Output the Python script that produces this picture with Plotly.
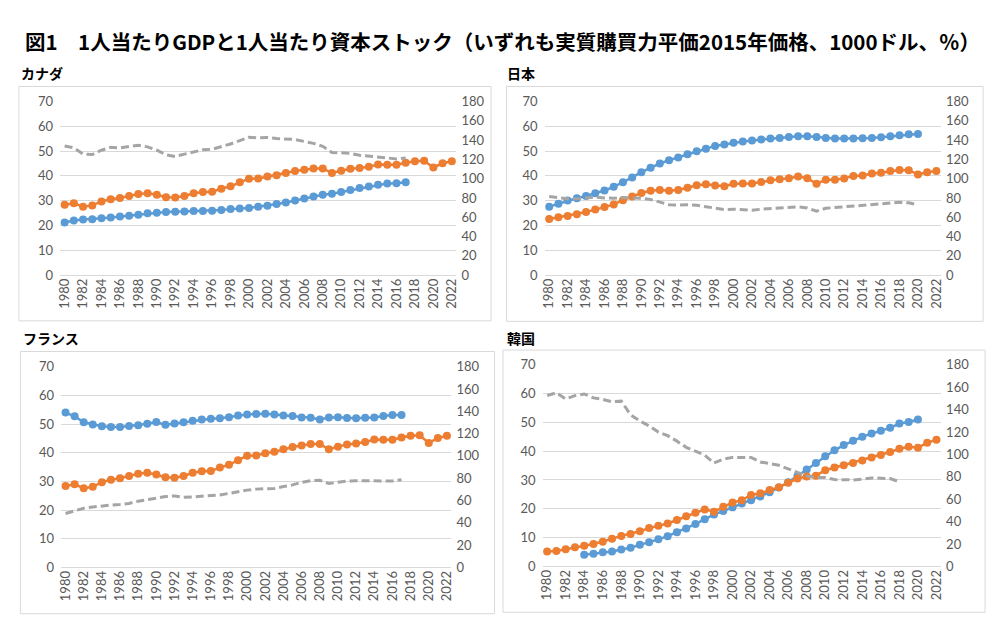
import plotly.graph_objects as go

years = list(range(1980, 2023))

# ---- Canada ----
can_gdp = [28.4, 29.0, 27.6, 28.1, 29.7, 30.6, 31.1, 31.9, 32.7, 33.0, 32.4, 31.4, 31.3, 31.9, 33.0,
           33.5, 33.6, 34.8, 35.8, 37.4, 38.9, 39.0, 39.8, 40.3, 41.2, 42.0, 42.5, 43.0, 43.0, 41.2,
           42.1, 42.9, 43.2, 43.7, 44.6, 44.5, 44.5, 45.3, 45.9, 46.1, 43.4, 45.1, 45.9]
can_cap = [21.2, 22.0, 22.4, 22.5, 22.9, 23.2, 23.6, 23.9, 24.3, 24.9, 25.1, 25.4, 25.5, 25.6, 25.8,
           25.8, 25.9, 26.2, 26.6, 26.8, 27.1, 27.6, 28.0, 28.7, 29.3, 30.1, 30.9, 31.7, 32.4, 32.8,
           33.5, 34.3, 35.1, 35.7, 36.4, 36.9, 37.0, 37.4]
can_ratio = [133.9, 132.0, 125.5, 125.0, 129.5, 132.6, 132.0, 133.0, 134.6, 133.0, 129.5, 124.8, 123.0,
             125.5, 128.0, 130.0, 130.5, 133.0, 136.0, 139.5, 143.0, 142.3, 142.7, 141.7, 141.0, 140.6,
             138.6, 136.6, 133.6, 127.2, 126.8, 126.2, 124.2, 123.5, 122.8, 121.5, 120.5, 121.5]

# ---- Japan ----
jpn_gdp = [22.6, 23.3, 23.8, 24.5, 25.4, 26.4, 27.5, 28.5, 30.2, 31.7, 33.1, 34.0, 34.3, 34.0, 34.3,
           35.2, 36.2, 36.6, 36.1, 35.8, 36.8, 36.9, 36.9, 37.5, 38.2, 38.7, 39.1, 39.8, 39.1, 36.8,
           38.5, 38.5, 39.0, 40.0, 40.2, 41.0, 41.3, 42.0, 42.4, 42.3, 40.6, 41.5, 42.0]
jpn_cap = [27.6, 28.8, 30.1, 31.0, 31.9, 33.0, 34.1, 35.6, 37.4, 39.4, 41.5, 43.3, 45.0, 46.3, 47.4,
           48.7, 49.9, 51.0, 52.1, 52.7, 53.4, 53.9, 54.3, 54.7, 55.1, 55.3, 55.7, 56.0, 56.0, 55.7,
           55.3, 55.1, 55.1, 55.1, 55.2, 55.3, 55.6, 56.0, 56.4, 56.8, 56.9]
jpn_ratio = [81.4, 80.4, 79.1, 79.1, 80.4, 81.0, 80.0, 79.7, 80.4, 80.4, 79.7, 78.4, 75.4, 73.0, 72.7,
             73.0, 72.3, 71.0, 69.0, 68.0, 68.3, 68.0, 67.3, 68.3, 69.0, 69.6, 70.0, 70.7, 69.6, 66.3,
             69.3, 70.0, 71.3, 72.0, 72.3, 73.0, 73.7, 74.7, 75.4, 75.0, 72.7]

# ---- France ----
fra_gdp = [28.4, 29.0, 27.6, 28.1, 29.7, 30.6, 31.1, 31.9, 32.7, 33.0, 32.4, 31.4, 31.3, 31.9, 33.0,
           33.5, 33.6, 34.8, 35.8, 37.4, 38.9, 39.0, 39.8, 40.3, 41.2, 42.0, 42.5, 43.0, 43.0, 41.2,
           42.1, 42.9, 43.2, 43.7, 44.6, 44.5, 44.5, 45.3, 45.9, 46.1, 43.4, 45.1, 45.9]
fra_cap = [54.0, 52.7, 50.6, 49.8, 49.2, 49.0, 49.0, 49.3, 49.6, 50.1, 50.7, 49.7, 50.2, 50.6, 51.1,
           51.6, 51.8, 52.0, 52.4, 53.0, 53.3, 53.5, 53.6, 53.3, 53.0, 52.8, 52.3, 52.2, 51.6, 52.3,
           52.4, 52.1, 52.0, 52.2, 52.3, 52.8, 53.1, 53.1]
fra_ratio = [48.4, 50.4, 53.0, 54.2, 55.3, 55.9, 56.5, 57.4, 59.4, 60.9, 62.0, 63.5, 64.1, 62.9, 63.2,
             63.8, 64.1, 65.0, 66.4, 67.9, 69.3, 70.2, 70.5, 70.8, 72.5, 74.0, 76.3, 77.8, 78.1, 75.2,
             76.3, 77.5, 77.8, 77.5, 77.5, 77.5, 77.5, 78.6]

# ---- Korea ----
kor_gdp = [5.2, 5.4, 6.0, 6.7, 7.2, 7.8, 8.6, 9.6, 10.6, 11.3, 12.2, 13.3, 14.1, 14.9, 16.1,
           17.4, 18.6, 19.8, 19.0, 20.7, 22.2, 23.0, 24.8, 25.4, 26.5, 27.5, 29.0, 30.5, 31.2, 31.5,
           33.4, 34.3, 35.1, 35.9, 36.8, 37.8, 38.7, 39.7, 40.8, 41.5, 41.2, 42.9, 44.0]
kor_cap_years = list(range(1984, 2021))
kor_cap = [4.1, 4.4, 4.9, 5.2, 5.9, 6.5, 7.5, 8.4, 9.4, 10.5, 11.9, 13.2, 14.7, 16.4, 18.0, 19.2,
           20.5, 21.8, 23.0, 24.3, 25.7, 27.4, 29.2, 31.4, 33.6, 35.9, 38.2, 40.3, 42.1, 43.6, 45.0,
           46.1, 47.1, 48.1, 49.6, 50.1, 51.0]
kor_ratio = [152.4, 155.0, 149.5, 152.4, 153.9, 150.4, 149.0, 146.9, 147.5, 135.3, 129.8, 125.4, 119.9,
             116.7, 111.8, 106.3, 102.8, 99.3, 92.3, 95.8, 97.3, 97.3, 97.3, 93.2, 92.0, 90.3, 87.1,
             83.6, 80.7, 79.3, 79.3, 77.5, 77.2, 77.2, 77.8, 79.0, 78.7, 78.4, 75.5]

title_text = "図1　1人当たりGDPと1人当たり資本ストック（いずれも実質購買力平価2015年価格、1000ドル、％）"
panel_names = ["カナダ", "日本", "フランス", "韓国"]

BLUE = "#5B9BD5"
ORANGE = "#ED7D31"
GREY = "#A5A5A5"
W, H = 1000, 630

panels = [
    dict(name=panel_names[0], gdp=(years, can_gdp), cap=(years[:len(can_cap)], can_cap),
         ratio=(years[:len(can_ratio)], can_ratio),
         px=(56.4, 455.6), py=(274, 96), box=(15, 80.5, 490.5, 321), lab=(15, 67)),
    dict(name=panel_names[1], gdp=(years, jpn_gdp), cap=(years[:len(jpn_cap)], jpn_cap),
         ratio=(years[:len(jpn_ratio)], jpn_ratio),
         px=(544.4, 943.6), py=(274, 96), box=(506, 80.5, 986, 321.5), lab=(505, 67)),
    dict(name=panel_names[2], gdp=(years, fra_gdp), cap=(years[:len(fra_cap)], fra_cap),
         ratio=(years[:len(fra_ratio)], fra_ratio),
         px=(57.4, 450.6), py=(574, 368), box=(16.5, 352.5, 494, 621.5), lab=(17, 339)),
    dict(name=panel_names[3], gdp=(years, kor_gdp), cap=(kor_cap_years, kor_cap),
         ratio=(years[:len(kor_ratio)], kor_ratio),
         px=(542.3, 943.7), py=(573, 366), box=(502.5, 351, 988, 620), lab=(505, 339)),
]

fig = go.Figure()
tickfont = dict(family="Lato, Noto Sans, sans-serif", size=13, color="#595959")
layout = dict(width=W, height=H, margin=dict(l=0, r=0, t=0, b=0),
              paper_bgcolor="white", plot_bgcolor="white", showlegend=False)
shapes = []
annotations = [dict(text=title_text, x=19 / W, y=1 - 34 / H, xref="paper", yref="paper",
                    xanchor="left", yanchor="middle", showarrow=False,
                    font=dict(family="Noto Sans CJK JP", size=20.5, color="#000000", weight="bold"))]

for i, p in enumerate(panels):
    xn = i + 1
    yl = 2 * i + 1
    yr = 2 * i + 2
    xs = "x" if xn == 1 else f"x{xn}"
    yls = "y" if yl == 1 else f"y{yl}"
    yrs = f"y{yr}"
    xdom = [p["px"][0] / W, p["px"][1] / W]
    ydom = [1 - p["py"][0] / H, 1 - p["py"][1] / H]
    layout[f"xaxis{'' if xn == 1 else xn}"] = dict(
        domain=xdom, anchor=yls, range=[1979.5, 2022.5], tickmode="array",
        tickvals=list(range(1980, 2023, 2)), ticktext=[str(v) for v in range(1980, 2023, 2)],
        tickangle=-90, showgrid=False, zeroline=False, showline=False, ticks="",
        tickfont=tickfont, fixedrange=True)
    layout[f"yaxis{'' if yl == 1 else yl}"] = dict(
        domain=ydom, anchor=xs, range=[0, 70], dtick=10, tick0=0, showgrid=True,
        gridcolor="#D9D9D9", gridwidth=1, zeroline=True, zerolinecolor="#D9D9D9",
        zerolinewidth=1, showline=False, ticks="", tickfont=tickfont, ticklabelstandoff=6)
    layout[f"yaxis{yr}"] = dict(
        domain=ydom, anchor=xs, overlaying=yls, side="right", range=[0, 180], dtick=20,
        tick0=0, showgrid=False, zeroline=False, showline=False, ticks="", tickfont=tickfont,
        ticklabelstandoff=4)

    fig.add_trace(go.Scatter(x=p["ratio"][0], y=p["ratio"][1], mode="lines",
                             line=dict(color=GREY, width=3, dash="8px,4px"),
                             xaxis=xs, yaxis=yrs, name="GDP/資本ストック"))
    fig.add_trace(go.Scatter(x=p["cap"][0], y=p["cap"][1], mode="lines+markers",
                             line=dict(color=BLUE, width=2.5),
                             marker=dict(color=BLUE, size=8),
                             xaxis=xs, yaxis=yls, name="1人当たり資本ストック"))
    fig.add_trace(go.Scatter(x=p["gdp"][0], y=p["gdp"][1], mode="lines+markers",
                             line=dict(color=ORANGE, width=2.5),
                             marker=dict(color=ORANGE, size=8),
                             xaxis=xs, yaxis=yls, name="1人当たりGDP"))

    bx0, by0, bx1, by1 = p["box"]
    shapes.append(dict(type="rect", xref="paper", yref="paper",
                       x0=bx0 / W, x1=bx1 / W, y0=1 - by1 / H, y1=1 - by0 / H,
                       line=dict(color="#D9D9D9", width=1), fillcolor="rgba(0,0,0,0)",
                       layer="below"))
    annotations.append(dict(text=p["name"], x=p["lab"][0] / W, y=1 - p["lab"][1] / H,
                            xref="paper", yref="paper", xanchor="left", yanchor="middle",
                            showarrow=False,
                            font=dict(family="Noto Sans CJK JP", size=14, color="#000000",
                                      weight="bold")))

layout["shapes"] = shapes
layout["annotations"] = annotations
fig.update_layout(**layout)
fig.write_html("out.html")
